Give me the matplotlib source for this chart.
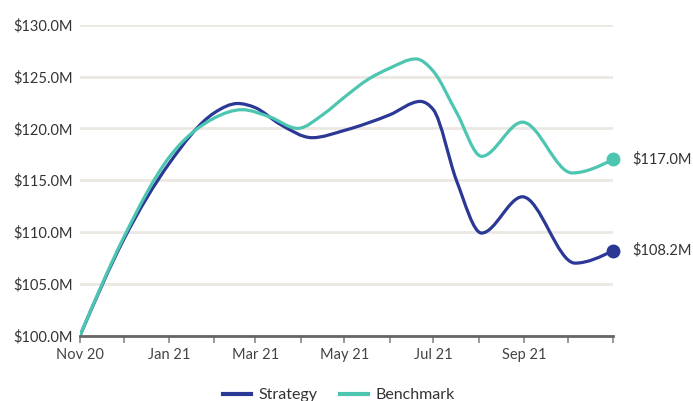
import numpy as np
import pandas as pd
import matplotlib
matplotlib.use('Agg')
import matplotlib.pyplot as plt
import matplotlib.dates as mdates
from matplotlib.path import Path
from matplotlib.patches import PathPatch
from matplotlib.lines import Line2D

plt.rcParams['font.family'] = ['Lato', 'DejaVu Sans']
plt.rcParams['font.size'] = 10.5

#### Data ($M) ####
strategy_dates = ['2020-11-01', '2020-12-01', '2021-01-01', '2021-02-01', '2021-02-17',
                  '2021-03-01', '2021-03-18', '2021-04-09', '2021-05-01', '2021-06-01',
                  '2021-06-22', '2021-07-01', '2021-07-17', '2021-08-03', '2021-08-31',
                  '2021-10-06', '2021-11-01']
strategy = [100.0, 109.3, 116.6, 121.5, 122.4, 122.0, 120.4, 119.1, 119.8, 121.3,
            122.6, 121.8, 114.9, 109.9, 113.4, 107.0, 108.2]

benchmark_dates = ['2020-11-01', '2020-12-01', '2021-01-01', '2021-02-01', '2021-02-20',
                   '2021-03-11', '2021-03-30', '2021-04-17', '2021-05-01', '2021-05-17',
                   '2021-06-01', '2021-06-19', '2021-07-01', '2021-07-17', '2021-08-03',
                   '2021-08-31', '2021-10-04', '2021-11-01']
benchmark = [100.0, 109.5, 117.2, 121.0, 121.8, 121.1, 120.0, 121.4, 123.0, 124.7,
             125.8, 126.7, 125.5, 121.5, 117.3, 120.6, 115.7, 117.0]

names = ['Strategy', 'Benchmark']
colors = ['#2b3896', '#4cc6b1']
tick_dates = pd.date_range('2020-11-01', '2021-11-01', freq='MS')
label_dates = pd.date_range('2020-11-01', '2021-09-01', freq='2MS')


def monotone_path(x, y):
    # monotone cubic (as d3 curveMonotoneX), drawn as Bezier segments
    x = np.asarray(x, float)
    y = np.asarray(y, float)
    n = len(x)
    h = np.diff(x)
    s = np.diff(y) / h
    t = np.zeros(n)
    for i in range(1, n - 1):
        p = (s[i-1] * h[i] + s[i] * h[i-1]) / (h[i-1] + h[i])
        t[i] = (np.sign(s[i-1]) + np.sign(s[i])) * min(abs(s[i-1]), abs(s[i]), 0.5 * abs(p))
    t[0] = (3 * s[0] - t[1]) / 2
    t[-1] = (3 * s[-1] - t[-2]) / 2
    verts = [(x[0], y[0])]
    codes = [Path.MOVETO]
    for i in range(n - 1):
        dx = h[i] / 3
        verts += [(x[i] + dx, y[i] + dx * t[i]), (x[i+1] - dx, y[i+1] - dx * t[i+1]),
                  (x[i+1], y[i+1])]
        codes += [Path.CURVE4] * 3
    return Path(verts, codes)


fig = plt.figure(figsize=(6.93, 4.01), dpi=100)
ax = fig.add_axes([80/693, 1 - 335.7/401, 533/693, 311/401])

for d, vals, c in zip([strategy_dates, benchmark_dates], [strategy, benchmark], colors):
    xnum = mdates.date2num(pd.to_datetime(d))
    ax.add_patch(PathPatch(monotone_path(xnum, vals), fill=False, edgecolor=c,
                           lw=2.3, capstyle='round', joinstyle='round', zorder=3))
    ax.plot(xnum[-1], vals[-1], 'o', color=c, ms=9, zorder=4, clip_on=False)
    ax.annotate(f'${vals[-1]:.1f}M', (xnum[-1], vals[-1]), xytext=(14, 0),
                textcoords='offset points', va='center', ha='left',
                color='#333333', fontsize=10.5, annotation_clip=False)

ax.set_xlim(mdates.date2num(tick_dates[0]), mdates.date2num(tick_dates[-1]))
ax.set_ylim(100, 130)
ax.set_yticks(np.arange(100, 131, 5))
ax.set_yticklabels([f'${v:.1f}M' for v in np.arange(100, 131, 5)])
ax.set_xticks(mdates.date2num(tick_dates))
ax.set_xticklabels([d.strftime('%b %y') if d in label_dates else '' for d in tick_dates])

ax.grid(axis='y', color='#ebe8e3', lw=2, zorder=0)
ax.set_axisbelow(True)
for s in ['left', 'right', 'top']:
    ax.spines[s].set_visible(False)
ax.spines['bottom'].set_color('#666666')
ax.spines['bottom'].set_linewidth(2)
ax.spines['bottom'].set_zorder(5)
ax.tick_params(axis='y', length=0, pad=5, colors='#333333')
ax.tick_params(axis='x', length=5, width=1.2, color='#888888', pad=4,
               labelcolor='#444444')

handles = [Line2D([], [], color=c, lw=3) for c in colors]
fig.legend(handles, names, loc='center', bbox_to_anchor=(0.489, 0.014), ncol=2,
           frameon=False, handlelength=1.75, handletextpad=0.5, columnspacing=1.4,
           fontsize=11.5, labelcolor='#333333')

fig.savefig('out.png', dpi=100)
